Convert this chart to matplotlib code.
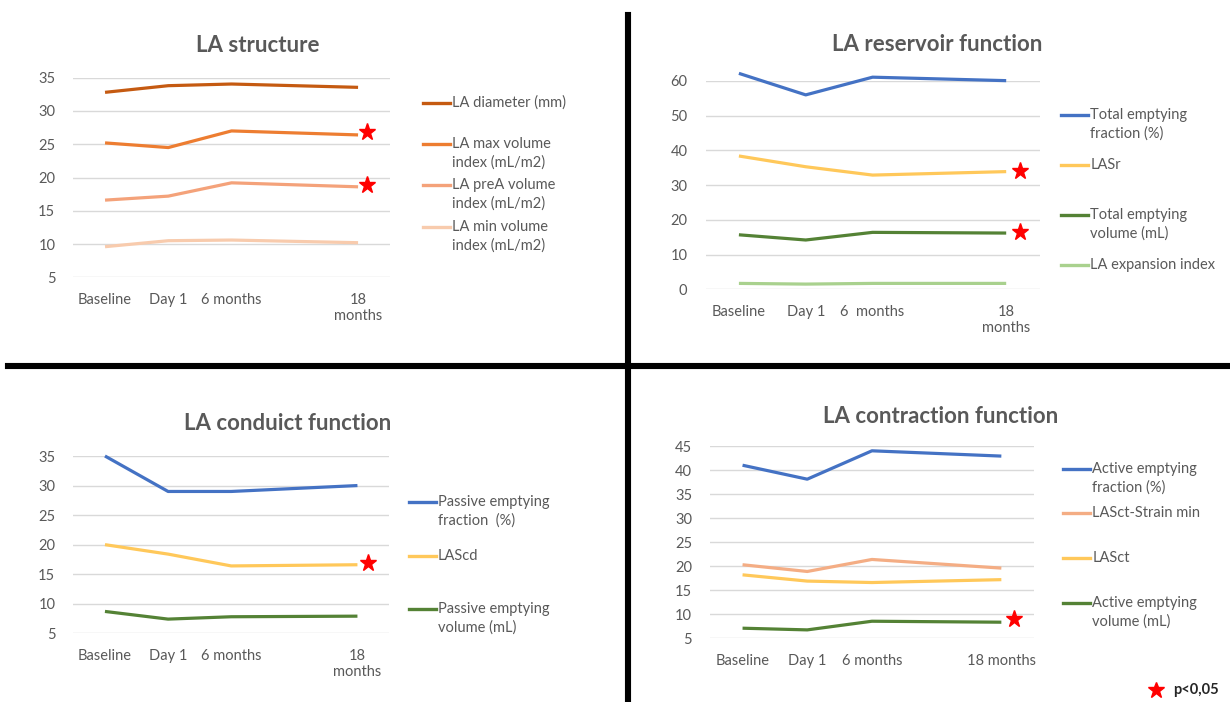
import matplotlib.pyplot as plt
from matplotlib.lines import Line2D

W, H = 1230, 702
GREY = "#595959"
plt.rcParams["font.family"] = ["Lato", "DejaVu Sans"]

# x categories (18 months sits two slots after 6 months)
cat_pos = [0, 1, 2, 4]
cats_wrap = ["Baseline", "Day 1", "6 months", "18\nmonths"]
cats_res = ["Baseline", "Day 1", "6  months", "18\nmonths"]
cats_flat = ["Baseline", "Day 1", "6 months", "18 months"]

# LA structure
la_diameter = [32.8, 33.8, 34.05, 33.55]
la_max_vol = [25.2, 24.5, 27.0, 26.4]
la_prea_vol = [16.6, 17.2, 19.2, 18.6]
la_min_vol = [9.6, 10.5, 10.6, 10.2]
struct_labels = ["LA diameter (mm)", "LA max volume\nindex (mL/m2)",
                 "LA preA volume\nindex (mL/m2)", "LA min volume\nindex (mL/m2)"]
struct_stars = [26.9, 18.8]

# LA reservoir function
total_ef = [62.2, 56.0, 61.1, 60.1]
lasr = [38.4, 35.3, 32.9, 33.9]
total_vol = [15.7, 14.2, 16.4, 16.2]
expansion_idx = [1.7, 1.5, 1.7, 1.7]
res_labels = ["Total emptying\nfraction (%)", "LASr",
              "Total emptying\nvolume (mL)", "LA expansion index"]
res_stars = [34.2, 16.4]

# LA conduit function
passive_ef = [35.0, 29.0, 29.0, 30.0]
lascd = [20.0, 18.4, 16.4, 16.6]
passive_vol = [8.7, 7.4, 7.8, 7.9]
cond_labels = ["Passive emptying\nfraction  (%)", "LAScd",
               "Passive emptying\nvolume (mL)"]
cond_stars = [16.95]

# LA contraction function
active_ef = [41.0, 38.1, 44.0, 42.9]
lasct_strain = [20.3, 18.9, 21.4, 19.6]
lasct = [18.2, 16.9, 16.6, 17.2]
active_vol = [7.1, 6.75, 8.55, 8.35]
contr_labels = ["Active emptying\nfraction (%)", "LASct-Strain min", "LASct",
                "Active emptying\nvolume (mL)"]
contr_stars = [9.0]

fig = plt.figure(figsize=(W / 100, H / 100), dpi=100)


def fx(px):
    return px / W


def fy(py):
    return 1 - py / H


def make_axes(left, top, right, bottom):
    return fig.add_axes([fx(left), fy(bottom), (right - left) / W, (bottom - top) / H])


def style_axes(ax, ylim, yticks, xlabels):
    ax.set_xlim(-0.5, 4.5)
    ax.set_ylim(*ylim)
    ax.set_yticks(yticks)
    ax.set_xticks(cat_pos, xlabels)
    ax.grid(axis="y", color="#D9D9D9", lw=1.0)
    ax.set_axisbelow(True)
    for s in ax.spines.values():
        s.set_visible(False)
    ax.tick_params(axis="both", length=0, labelsize=10.5, colors=GREY)
    ax.tick_params(axis="x", pad=11)
    ax.tick_params(axis="y", pad=13)
    for t in ax.get_xticklabels():
        t.set_verticalalignment("top")


def draw_legend(lines, labels, x0, y0, step):
    # hand-made legend: handle sits on the first text line
    for i, (ln, lab) in enumerate(zip(lines, labels)):
        y = y0 + i * step
        fig.add_artist(Line2D([fx(x0), fx(x0 + 27)], [fy(y), fy(y)],
                              color=ln.get_color(), lw=2.4))
        for j, part in enumerate(lab.split("\n")):
            fig.text(fx(x0 + 29), fy(y + j * 18.6), part, fontsize=10.5,
                     color=GREY, va="center", ha="left")


def panel(box, ylim, yticks, xlabels, series, colors, labels, stars, star_x,
          title, title_xy, leg):
    ax = make_axes(*box)
    style_axes(ax, ylim, yticks, xlabels)
    lines = []
    for vals, c in zip(series, colors):
        ln, = ax.plot(cat_pos, vals, color=c, lw=2.3, clip_on=False,
                      solid_capstyle="butt")
        lines.append(ln)
    ax.plot([star_x] * len(stars), stars, ls="none", marker="*", ms=12.5,
            color="#FF0000", clip_on=False)
    fig.text(fx(title_xy[0]), fy(title_xy[1]), title, fontsize=16,
             fontweight="bold", color=GREY, ha="center", va="center")
    draw_legend(lines, labels, *leg)
    return ax


panel((73.4, 77.7, 389.7, 277.3), (5, 35), range(5, 36, 5), cats_wrap,
      [la_diameter, la_max_vol, la_prea_vol, la_min_vol],
      ["#C55A11", "#ED7D31", "#F4A27A", "#F8CBAD"], struct_labels,
      struct_stars, 4.14, "LA structure", (258, 45), (422.6, 102.7, 41.3))

panel((705.5, 81, 1039.6, 289.3), (0, 60), range(0, 61, 10), cats_res,
      [total_ef, lasr, total_vol, expansion_idx],
      ["#4472C4", "#FFC85A", "#548235", "#A9D18E"], res_labels,
      res_stars, 4.2, "LA reservoir function", (937, 44.3), (1061.4, 115, 50))

panel((73.4, 456, 389, 633.3), (5, 35), range(5, 36, 5), cats_wrap,
      [passive_ef, lascd, passive_vol],
      ["#4472C4", "#FFC85A", "#548235"], cond_labels,
      cond_stars, 4.17, "LA conduict function", (287.7, 424), (408.7, 502.3, 53.5))

panel((710.2, 446, 1033.7, 638.3), (5, 45), range(5, 46, 5), cats_flat,
      [active_ef, lasct_strain, lasct, active_vol],
      ["#4472C4", "#F4AD84", "#FFC85A", "#548235"], contr_labels,
      contr_stars, 4.2, "LA contraction function", (940.4, 416.7),
      (1063.4, 468.7, 44.7))

# quadrant dividers
fig.add_artist(Line2D([fx(627.7), fx(627.7)], [fy(15), fy(702)], color="black", lw=4.4))
fig.add_artist(Line2D([fx(8), fx(1230)], [fy(366.3), fy(366.3)], color="black", lw=4.4))

# significance key
fig.add_artist(Line2D([fx(1156)], [fy(690)], ls="none", marker="*", ms=12,
                      color="#FF0000"))
fig.text(fx(1172.7), fy(690), "p<0,05", fontsize=10.5, fontweight="bold",
         color="#262626", ha="left", va="center")

fig.savefig("out.png", dpi=100)
